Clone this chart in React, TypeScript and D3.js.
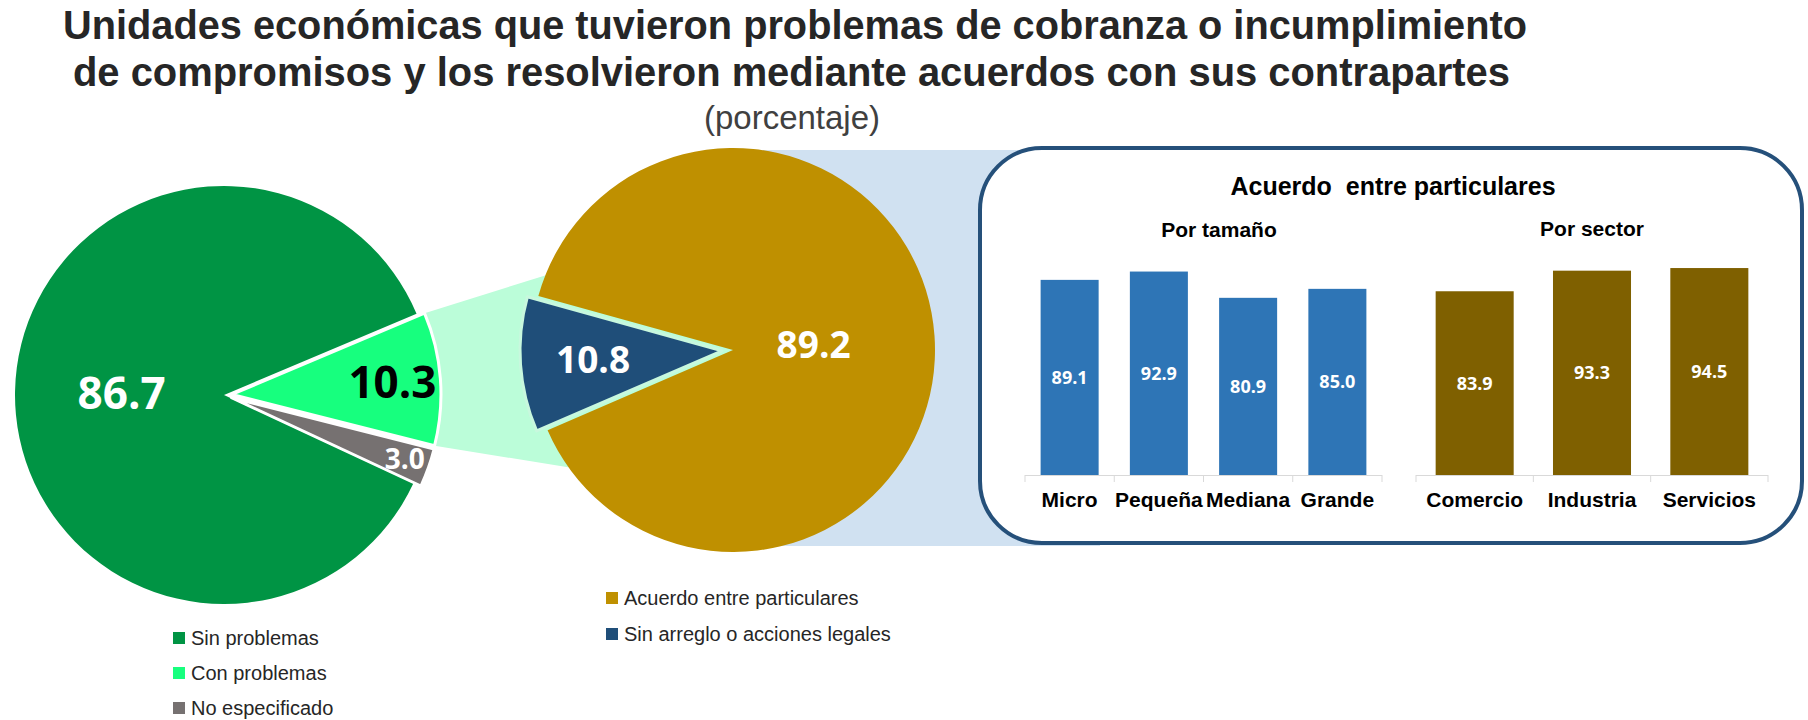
import React, { useEffect } from "react";
import * as d3 from "d3";

// ---------- data ----------
const pie1Labels = ["Sin problemas", "Con problemas", "No especificado"];
const pie1Values = [86.7, 10.3, 3.0];
const pie2Labels = ["Acuerdo entre particulares", "Sin arreglo o acciones legales"];
const pie2Values = [89.2, 10.8];
const sizeCategories = ["Micro", "Pequeña", "Mediana", "Grande"];
const sizeValues = [89.1, 92.9, 80.9, 85.0];
const sectorCategories = ["Comercio", "Industria", "Servicios"];
const sectorValues = [83.9, 93.3, 94.5];

const titleLines = [
  "Unidades económicas que tuvieron problemas de cobranza o incumplimiento",
  "de compromisos y los resolvieron mediante acuerdos con sus contrapartes",
];
const subtitle = "(porcentaje)";
const boxTitle = "Acuerdo  entre particulares";
const sizeTitle = "Por tamaño";
const sectorTitle = "Por sector";

// ---------- styles ----------
const W = 1808;
const H = 720;
const SANS = "Arial, 'Liberation Sans', sans-serif";
const NUM = "'Open Sans', 'DejaVu Sans', sans-serif";
const pie1Colors = ["#009444", "#17ff7e", "#767171"];
const pie1LabelColors = ["#ffffff", "#000000", "#ffffff"];
const pie2Colors = ["#bf9000", "#1f4e79"];
const sizeColor = "#2e75b6";
const sectorColor = "#7f6000";
const mint = "#bbfdd9";
const lightBlue = "#d0e1f1";
const boxStroke = "#25507a";

const titleLayout = [
  { cx: 795, y: 39, len: 1464 },
  { cx: 791.5, y: 86, len: 1437 },
];

const deg = (d: number) => (d * Math.PI) / 180;

type Slice = d3.PieArcDatum<number>;

function polar(cx: number, cy: number, r: number, a: number) {
  return { x: cx + r * Math.sin(a), y: cy - r * Math.cos(a) };
}

export default function App() {
  useEffect(() => {
    document.body.style.margin = "0";
    document.body.style.overflow = "hidden";
  }, []);

  // ----- left pie -----
  const C1 = { x: 224, y: 395 };
  const R1 = 209;
  const explode1 = [0, 8, 8];
  const pie1 = d3
    .pie<number>()
    .sort(null)
    .value((d) => d)
    .startAngle(deg(115))
    .endAngle(deg(115 + 360));
  const arcs1 = pie1(pie1Values);
  const arc1 = d3.arc<Slice>().innerRadius(0).outerRadius(R1);
  const centers1 = arcs1.map((a, i) => {
    const m = (a.startAngle + a.endAngle) / 2;
    return polar(C1.x, C1.y, explode1[i], m);
  });
  const labelR1 = [0.49, 0.77, 0.88];
  const labelSize1 = [44, 44, 28];

  // ----- right pie -----
  const C2 = { x: 733, y: 350 };
  const R2 = 202;
  const explode2 = [0, 11];
  const pie2 = d3
    .pie<number>()
    .sort(null)
    .value((d) => d)
    .startAngle(deg(285.5))
    .endAngle(deg(285.5 + 360));
  const arcs2 = pie2(pie2Values);
  const arc2 = d3.arc<Slice>().innerRadius(0).outerRadius(R2);
  const centers2 = arcs2.map((a, i) => {
    const m = (a.startAngle + a.endAngle) / 2;
    return polar(C2.x, C2.y, explode2[i], m);
  });
  const labelR2 = [0.4, 0.64];

  // ----- connector (from "Con problemas" slice to second pie) -----
  const s = arcs1[1];
  const cs = centers1[1];
  const k1 = polar(cs.x, cs.y, R1, s.startAngle);
  const k2 = polar(cs.x, cs.y, R1, s.endAngle);
  const p1 = { x: C2.x, y: C2.y - 133 };
  const p2 = { x: C2.x, y: C2.y + 144 };
  const connector = `M${k1.x},${k1.y}L${p1.x},${p1.y}L${p2.x},${p2.y}L${k2.x},${k2.y}Z`;

  // ----- box -----
  const box = { x: 980, y: 148, w: 822, h: 395 };

  // ----- bars -----
  const y = d3.scaleLinear().domain([0, 100]).range([475, 256]);
  const baseY = y(0);
  const xSize = d3
    .scaleBand<string>()
    .domain(sizeCategories)
    .range([1025, 1382])
    .paddingInner(0.35)
    .paddingOuter(0.175);
  const xSector = d3
    .scaleBand<string>()
    .domain(sectorCategories)
    .range([1416, 1768])
    .paddingInner(0.335)
    .paddingOuter(0.1675);

  const renderGroup = (
    x: d3.ScaleBand<string>,
    cats: string[],
    vals: number[],
    color: string,
    key: string
  ) => {
    const step = x.step();
    const half = (step - x.bandwidth()) / 2;
    const [r0, r1] = x.range();
    const ticks = cats.map((c) => (x(c) as number) - half).concat([r1]);
    return (
      <g key={key}>
        <line x1={r0} x2={r1} y1={baseY + 0.5} y2={baseY + 0.5} stroke="#d9d9d9" strokeWidth={1} />
        {ticks.map((t, i) => (
          <line key={i} x1={t} x2={t} y1={baseY} y2={baseY + 7} stroke="#d9d9d9" strokeWidth={1} />
        ))}
        {cats.map((c, i) => {
          const bx = x(c) as number;
          const top = y(vals[i]);
          return (
            <g key={c}>
              <rect x={bx} y={top} width={x.bandwidth()} height={baseY - top} fill={color} />
              <text
                x={bx + x.bandwidth() / 2}
                y={(top + baseY) / 2}
                dy="0.36em"
                textAnchor="middle"
                fontFamily={NUM}
                fontWeight={700}
                fontSize={18}
                fill="#ffffff"
              >
                {vals[i].toFixed(1)}
              </text>
              <text
                x={bx + x.bandwidth() / 2}
                y={507}
                textAnchor="middle"
                fontFamily={SANS}
                fontWeight={700}
                fontSize={21}
                fill="#000000"
              >
                {c}
              </text>
            </g>
          );
        })}
      </g>
    );
  };

  return (
    <svg
      width={W}
      height={H}
      viewBox={`0 0 ${W} ${H}`}
      style={{ position: "absolute", left: 0, top: 0, display: "block", background: "#ffffff" }}
    >
      <rect x={0} y={0} width={W} height={H} fill="#ffffff" />

      {/* titles */}
      {titleLines.map((t, i) => (
        <text
          key={i}
          x={titleLayout[i].cx}
          y={titleLayout[i].y}
          textAnchor="middle"
          fontFamily={SANS}
          fontWeight={700}
          fontSize={40}
          fill="#262626"
          textLength={titleLayout[i].len}
          lengthAdjust="spacingAndGlyphs"
        >
          {t}
        </text>
      ))}
      <text x={792} y={129} textAnchor="middle" fontFamily={SANS} fontSize={33} fill="#404040">
        {subtitle}
      </text>

      {/* light blue band to the box */}
      <rect x={C2.x} y={150} width={1100 - C2.x} height={396} fill={lightBlue} />

      {/* mint connector */}
      <path d={connector} fill={mint} />

      {/* left pie */}
      {arcs1.map((a, i) => (
        <path
          key={i}
          d={arc1(a) as string}
          transform={`translate(${centers1[i].x},${centers1[i].y})`}
          fill={pie1Colors[i]}
          stroke={explode1[i] ? "#ffffff" : "none"}
          strokeWidth={explode1[i] ? 3 : 0}
          strokeLinejoin="round"
        />
      ))}
      {arcs1.map((a, i) => {
        const m = (a.startAngle + a.endAngle) / 2;
        const p = polar(centers1[i].x, centers1[i].y, R1 * labelR1[i], m);
        return (
          <text
            key={i}
            x={p.x}
            y={p.y}
            dy="0.36em"
            textAnchor="middle"
            fontFamily={NUM}
            fontWeight={700}
            fontSize={labelSize1[i]}
            fill={pie1LabelColors[i]}
          >
            {pie1Values[i].toFixed(1)}
          </text>
        );
      })}

      {/* right pie */}
      {arcs2.map((a, i) => (
        <path
          key={i}
          d={arc2(a) as string}
          transform={`translate(${centers2[i].x},${centers2[i].y})`}
          fill={pie2Colors[i]}
          stroke={explode2[i] ? "#c8f8de" : "none"}
          strokeWidth={explode2[i] ? 3 : 0}
          strokeLinejoin="round"
        />
      ))}
      {arcs2.map((a, i) => {
        const m = (a.startAngle + a.endAngle) / 2;
        const p = polar(centers2[i].x, centers2[i].y, R2 * labelR2[i], m);
        return (
          <text
            key={i}
            x={p.x}
            y={p.y}
            dy="0.36em"
            textAnchor="middle"
            fontFamily={NUM}
            fontWeight={700}
            fontSize={37}
            fill="#ffffff"
          >
            {pie2Values[i].toFixed(1)}
          </text>
        );
      })}

      {/* box */}
      <rect
        x={box.x}
        y={box.y}
        width={box.w}
        height={box.h}
        rx={62}
        ry={62}
        fill="#ffffff"
        stroke={boxStroke}
        strokeWidth={4}
      />
      <text
        x={1393}
        y={195}
        textAnchor="middle"
        fontFamily={SANS}
        fontWeight={700}
        fontSize={25}
        fill="#000000"
        style={{ whiteSpace: "pre" }}
      >
        {boxTitle}
      </text>
      <text x={1219} y={237} textAnchor="middle" fontFamily={SANS} fontWeight={700} fontSize={21} fill="#000000">
        {sizeTitle}
      </text>
      <text x={1592} y={236} textAnchor="middle" fontFamily={SANS} fontWeight={700} fontSize={21} fill="#000000">
        {sectorTitle}
      </text>
      {renderGroup(xSize, sizeCategories, sizeValues, sizeColor, "size")}
      {renderGroup(xSector, sectorCategories, sectorValues, sectorColor, "sector")}

      {/* legends */}
      {pie1Labels.map((l, i) => (
        <g key={l} transform={`translate(173,${638 + i * 35})`}>
          <rect x={0} y={-6} width={12} height={12} fill={pie1Colors[i]} />
          <text x={18} y={7} fontFamily={SANS} fontSize={20} fill="#262626">
            {l}
          </text>
        </g>
      ))}
      {pie2Labels.map((l, i) => (
        <g key={l} transform={`translate(606,${598 + i * 36})`}>
          <rect x={0} y={-6} width={12} height={12} fill={pie2Colors[i]} />
          <text x={18} y={7} fontFamily={SANS} fontSize={20} fill="#262626">
            {l}
          </text>
        </g>
      ))}
    </svg>
  );
}
